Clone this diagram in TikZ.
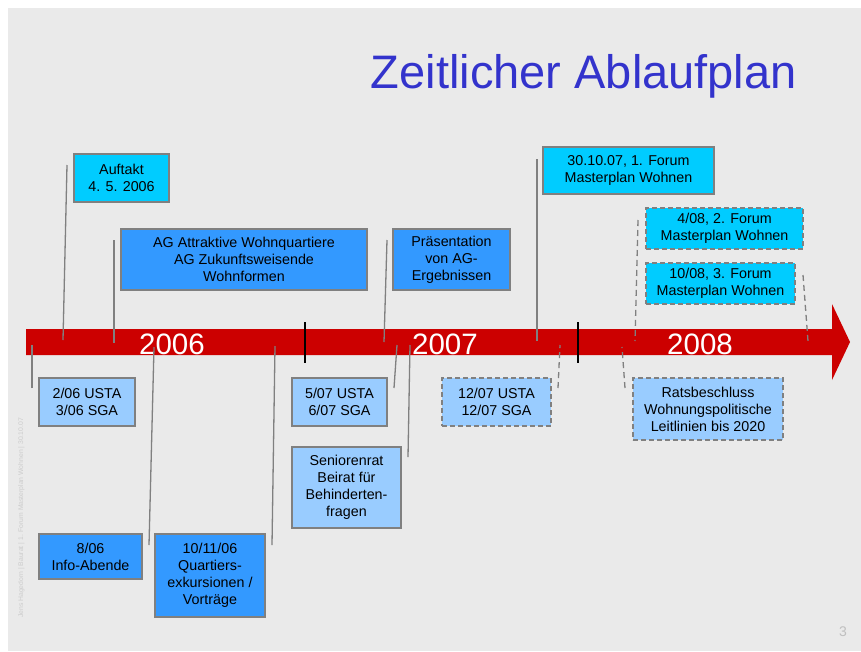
\documentclass[tikz,border=0pt]{standalone}
\usepackage{fontspec}
\setmainfont{Liberation Sans}
\definecolor{slidegray}{HTML}{EAEAEA}
\definecolor{titleblue}{HTML}{3333CC}
\definecolor{barred}{HTML}{CC0000}
\definecolor{linegray}{HTML}{808080}
\definecolor{forumcyan}{HTML}{00CCFF}
\definecolor{agblue}{HTML}{3399FF}
\definecolor{gremblue}{HTML}{99CCFF}

\begin{document}
\begin{tikzpicture}
[
    x=1pt, y=-1pt,
    box/.style={draw=linegray, line width=1.3pt, inner sep=0pt, align=center,
        font=\fontsize{14.3}{17}\selectfont},
    planned/.style={dash pattern=on 5pt off 3pt},
    conn/.style={draw=linegray, line width=1.3pt},
    year/.style={text=white, font=\fontsize{29.5}{30}\selectfont},
    tick/.style={draw=black, line width=2.6pt},
]
\useasboundingbox (0,0) rectangle (861,651);
\fill[white] (0,0) rectangle (861,651);
\fill[slidegray] (8,8) rectangle (861,651);

\node [anchor=base east, inner sep=0pt, text=titleblue, font=\fontsize{47}{50}\selectfont] (title) at (797,88) {Zeitlicher Ablaufplan};

\fill[barred] (26,329) -- (832,329) -- (832,304) -- (850,342) -- (832,380) -- (832,355) -- (26,355) -- cycle;
\draw[tick] (305,322) -- (305,363);
\draw[tick] (578,322) -- (578,363);
\node [year] (y2006) at (172,344) {2006};
\node [year] (y2007) at (445,344) {2007};
\node [year] (y2008) at (700,344) {2008};

\node [box, fill=forumcyan, minimum width=95pt, minimum height=48pt] (auftakt) at (121.5,178) {Auftakt\\4. 5. 2006};
\node [box, fill=agblue, minimum width=246pt, minimum height=61pt] (agwohn) at (244,259.5) {AG Attraktive Wohnquartiere\\AG Zukunftsweisende\\Wohnformen};
\node [box, fill=agblue, minimum width=117pt, minimum height=61pt] (praes) at (451.5,259.5) {Präsentation\\von AG-\\Ergebnissen};
\node [box, fill=forumcyan, minimum width=171pt, minimum height=47pt] (forum1) at (628.5,170.5) {30.10.07, 1. Forum\\Masterplan Wohnen};
\node [box, planned, fill=forumcyan, minimum width=157pt, minimum height=41pt] (forum2) at (724.5,228.5) {4/08, 2. Forum\\Masterplan Wohnen};
\node [box, planned, fill=forumcyan, minimum width=149pt, minimum height=41pt] (forum3) at (720.5,283.5) {10/08, 3. Forum\\Masterplan Wohnen};

\node [box, fill=gremblue, minimum width=96pt, minimum height=48pt] (usta06) at (87,402) {2/06 USTA\\3/06 SGA};
\node [box, fill=agblue, minimum width=103pt, minimum height=45pt] (info) at (90.5,556.5) {8/06\\Info-Abende};
\node [box, fill=agblue, minimum width=110pt, minimum height=83pt] (quart) at (210,575.5) {10/11/06\\Quartiers-\\exkursionen /\\Vorträge};
\node [box, fill=gremblue, minimum width=95pt, minimum height=48pt] (usta07) at (339.5,402) {5/07 USTA\\6/07 SGA};
\node [box, fill=gremblue, minimum width=109pt, minimum height=81pt] (senior) at (346.5,487.5) {Seniorenrat\\Beirat für\\Behinderten-\\fragen};
\node [box, planned, fill=gremblue, minimum width=109pt, minimum height=48pt] (usta12) at (496.5,402) {12/07 USTA\\12/07 SGA};
\node [box, planned, fill=gremblue, minimum width=150pt, minimum height=62pt] (rats) at (708,409) {Ratsbeschluss\\Wohnungspolitische\\Leitlinien bis 2020};

\coordinate (auftakt-end) at (67,165);   \coordinate (auftakt-bar) at (63,340);
\coordinate (agwohn-end) at (114,240);   \coordinate (agwohn-bar) at (114,343);
\coordinate (praes-end) at (387,240);    \coordinate (praes-bar) at (384,342);
\coordinate (forum1-end) at (537,159);   \coordinate (forum1-bar) at (537,341);
\coordinate (forum2-end) at (638,220);   \coordinate (forum2-bar) at (635,341);
\coordinate (forum3-end) at (803,275);   \coordinate (forum3-bar) at (808,341);
\coordinate (usta06-bar) at (32,345);    \coordinate (usta06-end) at (32,388);
\coordinate (info-bar) at (154,347);     \coordinate (info-end) at (149,545);
\coordinate (quart-bar) at (275,346);    \coordinate (quart-end) at (272,545);
\coordinate (usta07-bar) at (397,345);   \coordinate (usta07-end) at (394,388);
\coordinate (senior-bar) at (410,345);   \coordinate (senior-end) at (408,457);
\coordinate (usta12-bar) at (560,345);   \coordinate (usta12-end) at (558,388);
\coordinate (rats-bar) at (622,347);     \coordinate (rats-end) at (625,388);

\foreach \ev in {auftakt, agwohn, praes, forum1, usta06, info, quart, usta07, senior}
    \draw[conn] (\ev-end) -- (\ev-bar);
\foreach \ev in {forum2, forum3, usta12, rats}
    \draw[conn, dash pattern=on 6pt off 4pt] (\ev-end) -- (\ev-bar);

\node [rotate=90, anchor=base west, inner sep=0pt, text=black!20, font=\fontsize{6.8}{8}\selectfont] (author) at (23,618) {Jens Hagedorn | Baurat | 1. Forum Masterplan Wohnen | 30.10.07};
\node [text=black!25, font=\fontsize{14}{16}\selectfont] (pagenum) at (843,632) {3};
\end{tikzpicture}
\end{document}
